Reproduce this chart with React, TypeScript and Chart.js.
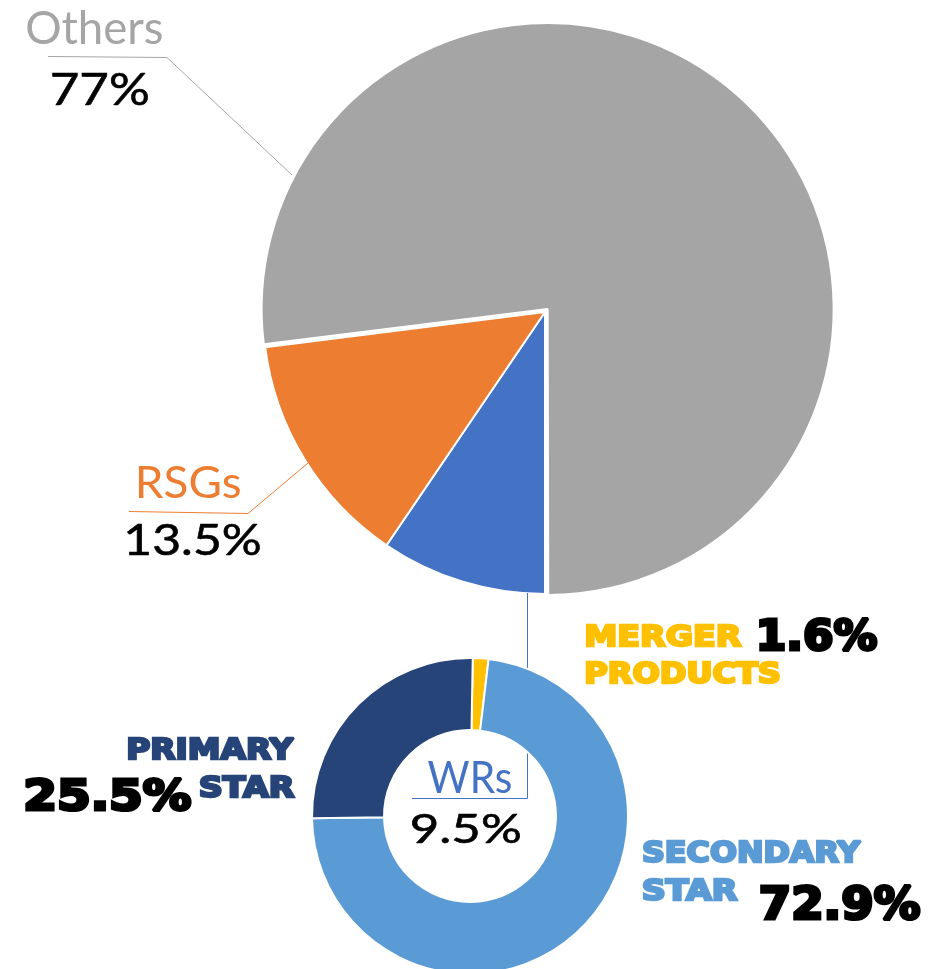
import React, { useEffect, useRef } from 'react';
import { Chart, registerables } from 'chart.js';

Chart.register(...registerables);

// ---- Data ----
const mainLabels = ['WRs', 'RSGs', 'Others'];
const mainValues = [9.5, 13.5, 77];
const mainColors = ['#4472C4', '#ED7D31', '#A5A5A5'];

const wrLabels = ['MERGER PRODUCTS', 'SECONDARY STAR', 'PRIMARY STAR'];
const wrValues = [1.6, 72.9, 25.5];
const wrColors = ['#FFC000', '#5B9BD5', '#264478'];

const W = 938;
const H = 969;

const REG = 'Lato, "Open Sans", sans-serif';
const HEAVY = '"DejaVu Sans", sans-serif';

function fitText(
  ctx: CanvasRenderingContext2D,
  text: string,
  family: string,
  weight: string,
  color: string,
  x0: number,
  x1: number,
  top: number,
  base: number,
  sw = 0
) {
  const h = sw / 2;
  x0 += h;
  x1 -= h;
  top += h;
  base -= h;
  ctx.save();
  ctx.font = `${weight} 100px ${family}`;
  const m = ctx.measureText(text);
  const asc = m.actualBoundingBoxAscent;
  const inkW = m.actualBoundingBoxLeft + m.actualBoundingBoxRight;
  const s = (base - top) / asc;
  const size = 100 * s;
  const sx = (x1 - x0) / (inkW * s);
  ctx.font = `${weight} ${size}px ${family}`;
  ctx.fillStyle = color;
  ctx.strokeStyle = color;
  ctx.textBaseline = 'alphabetic';
  ctx.textAlign = 'left';
  ctx.translate(x0, base);
  ctx.scale(sx, 1);
  ctx.fillText(text, m.actualBoundingBoxLeft * s, 0);
  if (sw > 0) {
    ctx.lineWidth = sw;
    ctx.lineJoin = 'miter';
    ctx.miterLimit = 2;
    ctx.strokeText(text, m.actualBoundingBoxLeft * s, 0);
  }
  ctx.restore();
}

function poly(ctx: CanvasRenderingContext2D, pts: number[][], color: string, w = 1) {
  ctx.save();
  ctx.strokeStyle = color;
  ctx.lineWidth = w;
  ctx.beginPath();
  pts.forEach((p, i) => (i === 0 ? ctx.moveTo(p[0], p[1]) : ctx.lineTo(p[0], p[1])));
  ctx.stroke();
  ctx.restore();
}

const pct = (v: number) => `${v}%`;

const leaderPlugin = {
  id: 'leaders',
  afterDatasetsDraw(chart: any) {
    const ctx = chart.ctx as CanvasRenderingContext2D;
    poly(ctx, [[48, 56.5], [167, 57.5], [292, 175]], mainColors[2]);
    poly(ctx, [[129, 511.5], [248, 513.5], [308, 463]], mainColors[1]);
    poly(ctx, [[527.5, 593], [527.5, 798.5], [412, 798.5]], mainColors[0]);
  },
};

const labelPlugin = {
  id: 'labels',
  afterDraw(chart: any) {
    const ctx = chart.ctx as CanvasRenderingContext2D;
    // Main pie labels
    fitText(ctx, mainLabels[2], REG, '400', mainColors[2], 27, 162, 10, 44);
    fitText(ctx, pct(mainValues[2]), REG, '400', '#000', 52, 148, 72, 105, 0.6);
    fitText(ctx, mainLabels[1], REG, '400', mainColors[1], 139, 240, 465, 498);
    fitText(ctx, pct(mainValues[1]), REG, '400', '#000', 127, 260, 523, 555, 0.6);
    fitText(ctx, mainLabels[0], REG, '400', mainColors[0], 428, 511, 760, 793);
    fitText(ctx, pct(mainValues[0]), REG, '400', '#000', 412, 520, 813, 843, 0.6);

    // WR sub-categories
    const [m1, m2] = wrLabels[0].split(' ');
    fitText(ctx, m1, HEAVY, 'bold', wrColors[0], 586, 742, 623, 647, 2.4);
    fitText(ctx, m2, HEAVY, 'bold', wrColors[0], 586, 780, 661, 684, 2.4);
    fitText(ctx, pct(wrValues[0]), HEAVY, 'bold', '#000', 759, 878, 617, 652, 3.2);

    const [s1, s2] = wrLabels[1].split(' ');
    fitText(ctx, s1, HEAVY, 'bold', wrColors[1], 643, 862, 840, 863, 2.4);
    fitText(ctx, s2, HEAVY, 'bold', wrColors[1], 643, 738, 878, 901, 2.4);
    fitText(ctx, pct(wrValues[1]), HEAVY, 'bold', '#000', 760, 921, 885, 921, 3.2);

    const [p1, p2] = wrLabels[2].split(' ');
    fitText(ctx, p1, HEAVY, 'bold', wrColors[2], 128, 295, 737, 760, 2.4);
    fitText(ctx, p2, HEAVY, 'bold', wrColors[2], 200, 295, 775, 798, 2.4);
    fitText(ctx, pct(wrValues[2]), HEAVY, 'bold', '#000', 25, 192, 777, 812, 3.2);
  },
};

export default function App() {
  const pieRef = useRef<HTMLCanvasElement>(null);
  const donutRef = useRef<HTMLCanvasElement>(null);

  useEffect(() => {
    const pie = new Chart(pieRef.current!, {
      type: 'pie',
      data: {
        labels: mainLabels,
        datasets: [
          {
            data: mainValues,
            backgroundColor: mainColors,
            borderColor: '#ffffff',
            borderWidth: 2,
            offset: [0, 0, 16],
          },
        ],
      },
      options: {
        responsive: false,
        animation: false,
        rotation: 180,
        radius: 282,
        layout: { padding: { left: 152, right: 0, top: 0, bottom: 345 } },
        plugins: { legend: { display: false }, tooltip: { enabled: false } },
      },
      plugins: [leaderPlugin],
    } as any);

    const donut = new Chart(donutRef.current!, {
      type: 'doughnut',
      data: {
        labels: wrLabels,
        datasets: [
          {
            data: wrValues,
            backgroundColor: wrColors,
            borderColor: '#ffffff',
            borderWidth: 2,
          },
        ],
      },
      options: {
        responsive: false,
        animation: false,
        rotation: 1,
        radius: 158,
        cutout: '54.4%',
        layout: { padding: { left: 2, right: 0, top: 663, bottom: 0 } },
        plugins: { legend: { display: false }, tooltip: { enabled: false } },
      },
      plugins: [labelPlugin],
    } as any);

    return () => {
      pie.destroy();
      donut.destroy();
    };
  }, []);

  const cs: React.CSSProperties = {
    position: 'absolute',
    left: 0,
    top: 0,
    width: W,
    height: H,
  };

  return (
    <div style={{ position: 'fixed', left: 0, top: 0, width: W, height: H, background: '#fff' }}>
      <canvas ref={pieRef} width={W} height={H} style={cs} />
      <canvas ref={donutRef} width={W} height={H} style={cs} />
    </div>
  );
}
